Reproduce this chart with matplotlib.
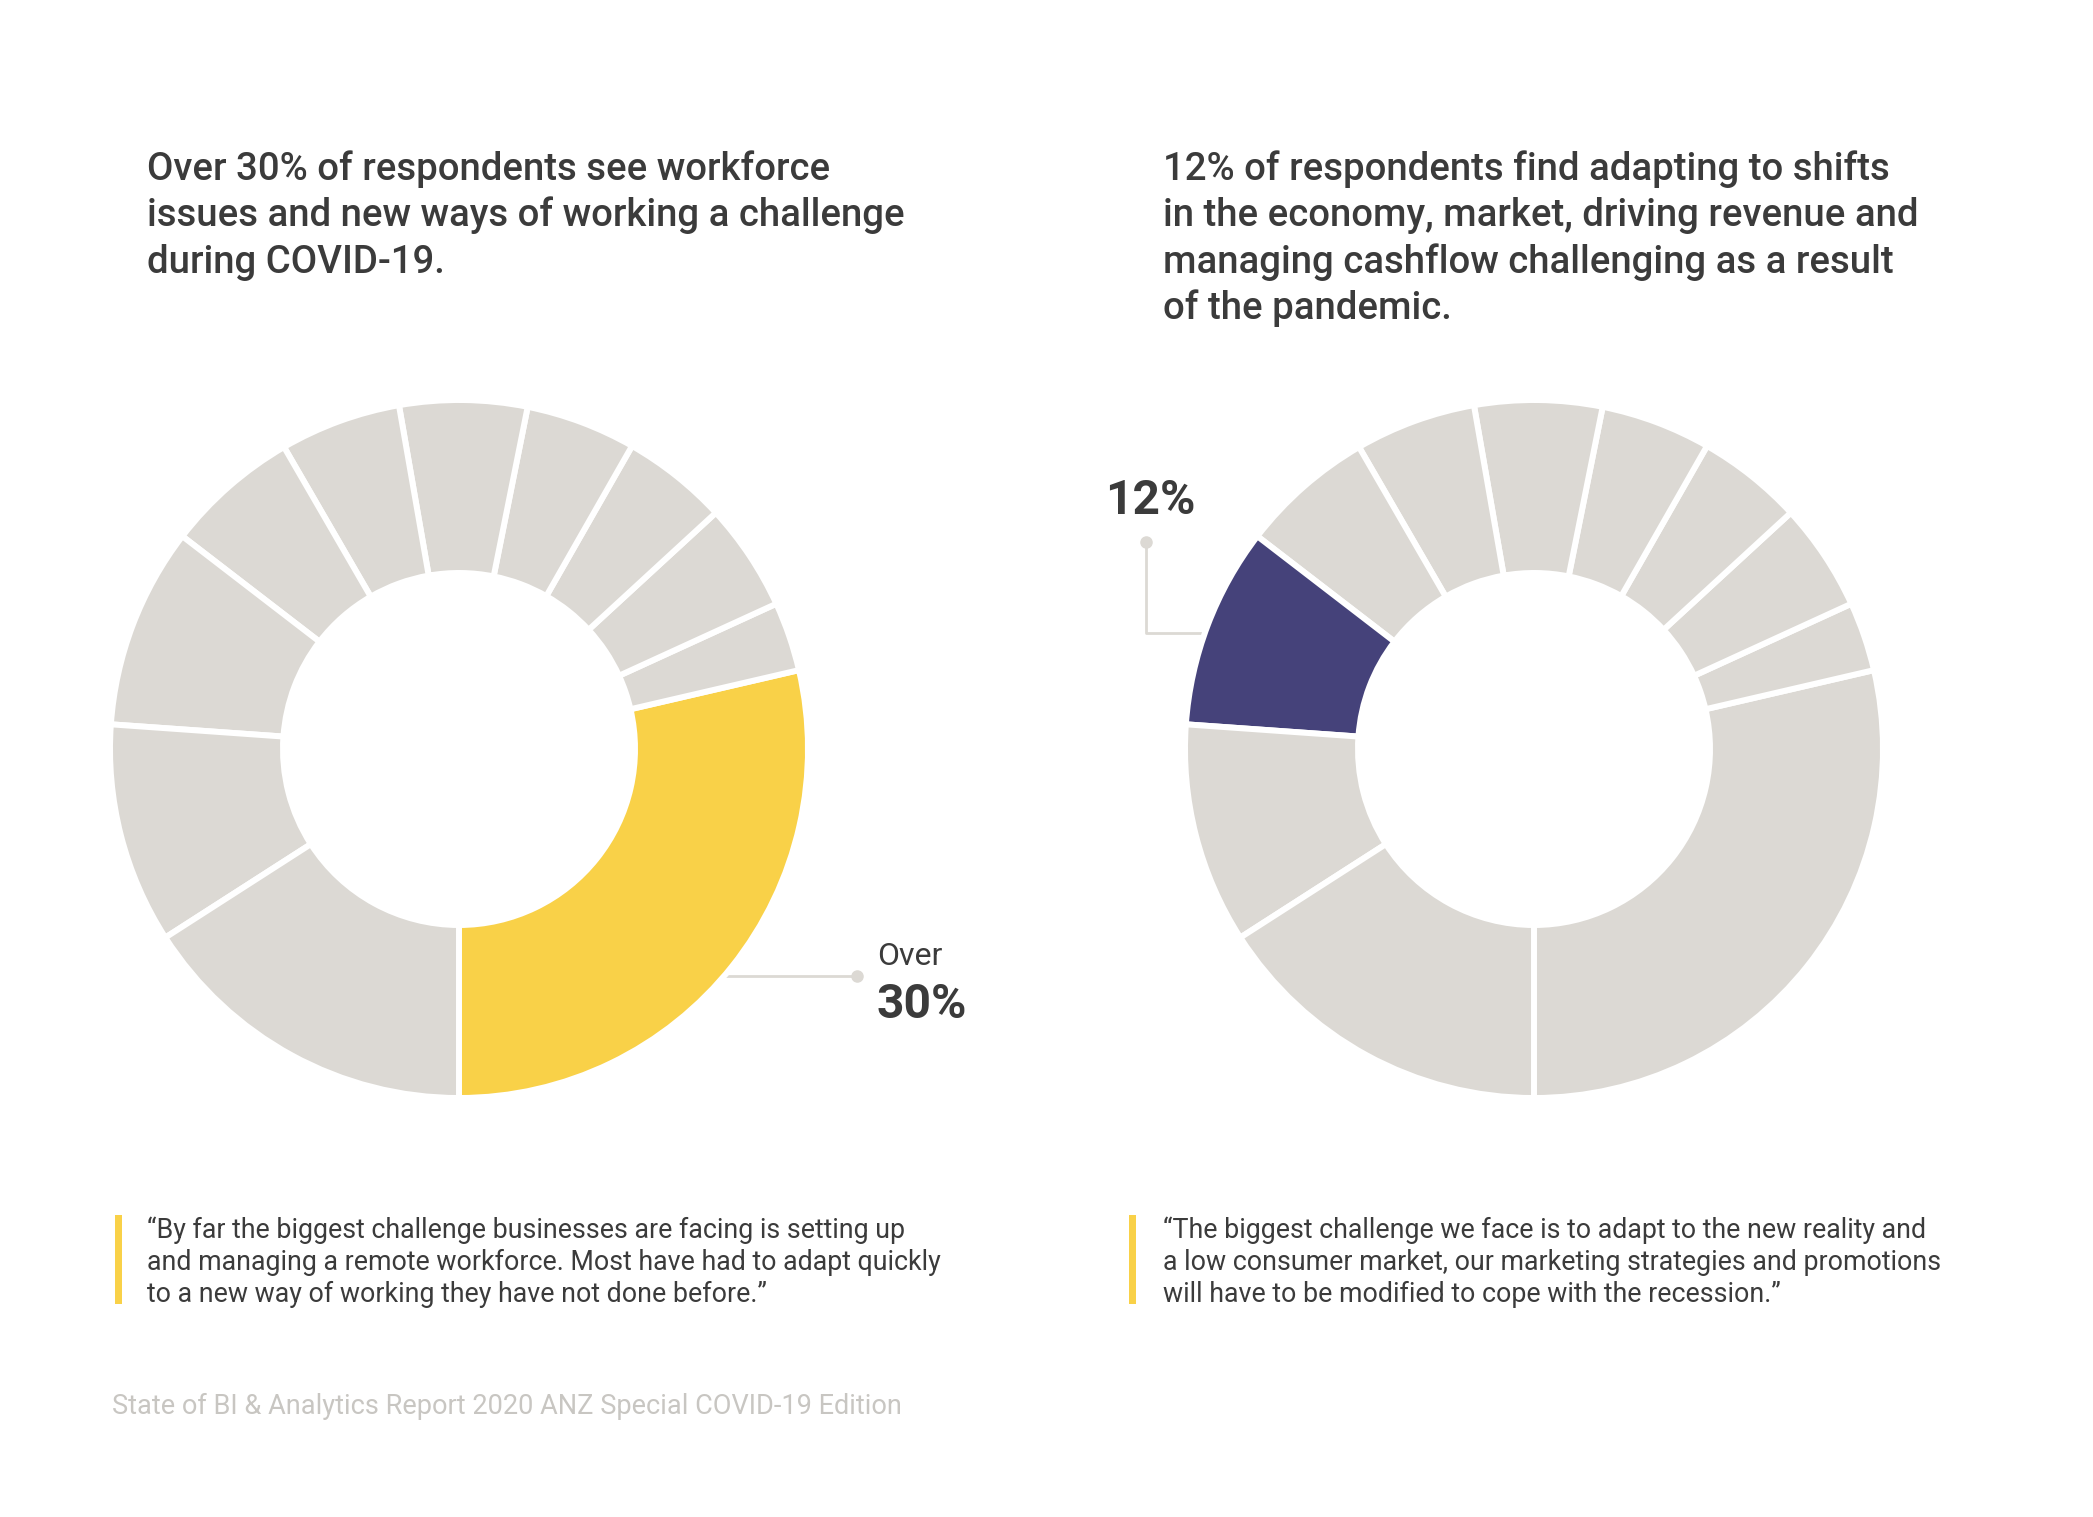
import matplotlib.pyplot as plt
from matplotlib.patches import Rectangle

# Anteile der Segmente (gegen den Uhrzeigersinn ab 6 Uhr)
werte = [28.6, 3.2, 5.0, 4.9, 5.1, 5.9, 5.6, 6.2, 9.3, 10.2, 15.9]
idx_links = 0    # gelb hervorgehoben
idx_rechts = 8   # lila hervorgehoben

titel_links = ["Over 30% of respondents see workforce",
               "issues and new ways of working a challenge",
               "during COVID-19."]
titel_rechts = ["12% of respondents find adapting to shifts",
                "in the economy, market, driving revenue and",
                "managing cashflow challenging as a result",
                "of the pandemic."]
zitat_links = ["\u201cBy far the biggest challenge businesses are facing is setting up",
               "and managing a remote workforce. Most have had to adapt quickly",
               "to a new way of working they have not done before.\u201d"]
zitat_rechts = ["\u201cThe biggest challenge we face is to adapt to the new reality and",
                "a low consumer market, our marketing strategies and promotions",
                "will have to be modified to cope with the recession.\u201d"]
quelle = "State of BI & Analytics Report 2020 ANZ Special COVID-19 Edition"

GRAU = "#dcd9d4"
GELB = "#f9d148"
LILA = "#45427a"
TEXT = "#3b3b3b"

W, H = 2093, 1517
plt.rcParams['font.family'] = ['Roboto', 'DejaVu Sans']

fig = plt.figure(figsize=(W / 100, H / 100), dpi=100)
ax = fig.add_axes([0, 0, 1, 1])


def y(p):
    # Pixel von oben -> Datenkoordinate
    return H - p


def donut(cx, cy, hl, farbe):
    farben = [GRAU] * len(werte)
    farben[hl] = farbe
    ax.pie(werte, colors=farben, startangle=-90, counterclock=True,
           center=(cx, y(cy)), radius=349,
           wedgeprops=dict(width=173, edgecolor="white", linewidth=4.3),
           frame=True)


donut(459, 749, idx_links, GELB)
donut(1534, 749, idx_rechts, LILA)

# Verbindungslinien
ax.plot([700, 857], [y(976), y(976)], color=GRAU, lw=2, zorder=0)
ax.plot([857], [y(976)], "o", color=GRAU, ms=8, zorder=0)
ax.plot([1146, 1146, 1230], [y(542), y(633), y(633)], color=GRAU, lw=2, zorder=0)
ax.plot([1146], [y(542)], "o", color=GRAU, ms=8, zorder=0)

ax.text(877, y(965), "Over", fontsize=23, color=TEXT, va="baseline")
ax.text(876, y(1018), "30%", fontsize=34.5, fontweight="bold", color=TEXT, va="baseline")
ax.text(1105, y(514), "12%", fontsize=34.5, fontweight="bold", color=TEXT, va="baseline")

# Titel
for i, t in enumerate(titel_links):
    ax.text(147, y(180 + i * 46.3), t, fontsize=27.6, fontweight="medium",
            color=TEXT, va="baseline")
for i, t in enumerate(titel_rechts):
    ax.text(1163, y(180 + i * 46.3), t, fontsize=27.6, fontweight="medium",
            color=TEXT, va="baseline")

# Zitate
ax.add_patch(Rectangle((115, y(1304)), 7, 89, color=GELB, lw=0))
ax.add_patch(Rectangle((1129, y(1304)), 7, 89, color=GELB, lw=0))
for i, t in enumerate(zitat_links):
    ax.text(147, y(1238 + i * 32.2), t, fontsize=19.3, color=TEXT, va="baseline")
for i, t in enumerate(zitat_rechts):
    ax.text(1163, y(1238 + i * 32.2), t, fontsize=19.3, color=TEXT, va="baseline")

ax.text(112, y(1414), quelle, fontsize=19.5, color="#c8c6c2", va="baseline")

ax.set_xlim(0, W)
ax.set_ylim(0, H)
ax.set_aspect("equal")
ax.axis("off")

plt.savefig("out.png", dpi=100, facecolor="white")
